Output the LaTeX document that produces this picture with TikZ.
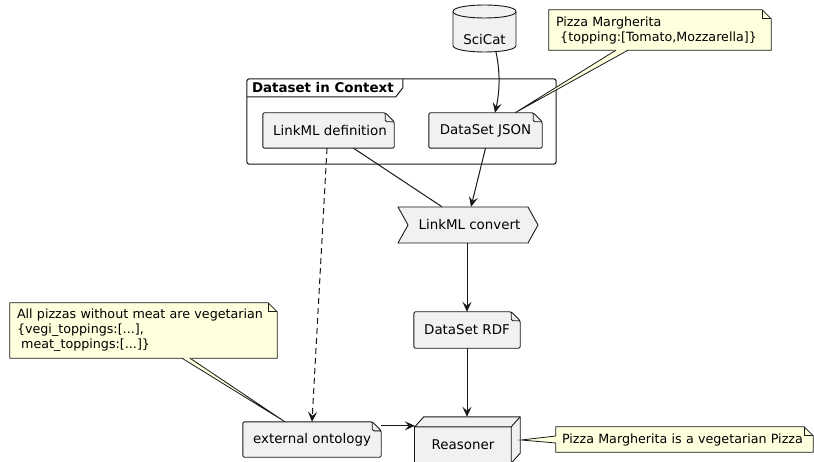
\documentclass[tikz,border=0pt]{standalone}
\usepackage{fontspec}
\setmainfont{DejaVu Sans}
\usetikzlibrary{arrows.meta,backgrounds,calc}
\definecolor{nodefill}{HTML}{F1F1F1}
\definecolor{notefill}{HTML}{FEFFDD}
\definecolor{ink}{HTML}{181818}
\newcommand{\foldedbox}[3]{%
  \draw[#2] (#1.south west) -- (#1.north west) -- ([xshift=-#3]#1.north east) -- ([yshift=-#3]#1.north east) -- (#1.south east) -- cycle;
  \draw[#2, fill=none] ([xshift=-#3]#1.north east) -- ([xshift=-#3,yshift=-#3]#1.north east) -- ([yshift=-#3]#1.north east);
}
\tikzset{
  box/.style={draw=none, inner sep=0pt, font=\fontsize{13.4}{16}\selectfont, text=black},
  notetext/.style={draw=none, inner xsep=7pt, inner ysep=0pt, align=left, font=\fontsize{12.7}{15}\selectfont, text=black},
  outline/.style={draw=ink, fill=nodefill, line width=0.9pt, line join=round},
  artline/.style={outline, rounded corners=1.5pt},
  noteline/.style={draw=ink, fill=notefill, line width=0.8pt, line join=miter},
  pkgline/.style={draw=ink, fill=white, line width=1pt},
  conn/.style={draw=ink, line width=1pt, -{Stealth[length=10pt,width=9pt,inset=4pt]}},
  plainline/.style={draw=ink, line width=1pt},
}
\begin{document}
\begin{tikzpicture}[x=1pt, y=-1pt]
\useasboundingbox (0,0) rectangle (814,462);

% nodes
\node[box, minimum width=309pt, minimum height=85pt] (pkg) at (401.5,121.5) {};
\node[anchor=west, inner sep=0pt, font=\bfseries\fontsize{13.4}{16}\selectfont] (pkgtitle) at ([xshift=5pt,yshift=-9pt]pkg.north west) {Dataset in Context};

\node[box, minimum width=63pt, minimum height=47pt] (scicat) at (484.5,28.5) {};
\node[box] (scicatlabel) at ([yshift=-11.5pt]scicat.center) {SciCat};

\node[box, minimum width=131pt, minimum height=35pt] (linkdef) at (328.5,130.5) {\hspace*{3pt}LinkML definition};
\node[box, minimum width=113pt, minimum height=35pt] (json) at (485.5,130.5) {DataSet JSON};
\node[box, minimum width=140pt, minimum height=36pt] (convert) at (468,225) {\hspace*{3pt}LinkML convert};
\node[box, minimum width=106pt, minimum height=36pt] (rdf) at (467,330) {DataSet RDF};
\node[box, minimum width=96pt, minimum height=36pt] (reasoner) at (463,445) {Reasoner};
\node[box, minimum width=138pt, minimum height=35pt] (ext) at (312,439.5) {external ontology};

\node[notetext, text width=208pt, minimum height=40pt] (note1) at (660,30) {Pizza Margherita\\\ \{topping:[Tomato,Mozzarella]\}};
\node[notetext, text width=253pt, minimum height=55pt] (note2) at (143.5,330.5) {All pizzas without meat are vegetarian\\\{vegi\_toppings:[...],\\\ meat\_toppings:[...]\}};
\node[notetext, inner xsep=6pt, text width=245pt, minimum height=25pt] (note3) at (684.5,439.5) {Pizza Margherita is a vegetarian Pizza};

% shapes
\begin{scope}[on background layer]
  \draw[pkgline, rounded corners=2.5pt] (pkg.south west) rectangle (pkg.north east);
  \draw[pkgline, fill=none] ([yshift=-18pt]pkg.north west) -- ++(149,0) -- ++(7,-9) -- ++(0,-9);

  \draw[outline] (453,11.5) .. controls (453,2.83) and (516,2.83) .. (516,11.5) -- (516,45.5) .. controls (516,54.17) and (453,54.17) .. (453,45.5) -- cycle;
  \draw[outline, fill=none] (453,11.5) .. controls (453,20.17) and (516,20.17) .. (516,11.5);

  \foldedbox{linkdef}{artline}{9pt}
  \foldedbox{json}{artline}{9pt}
  \foldedbox{rdf}{artline}{9pt}
  \foldedbox{ext}{artline}{9pt}

  \draw[outline] (398,207) -- (528,207) -- (538,225) -- (528,243) -- (398,243) -- (408,225) -- cycle;

  \draw[outline] (reasoner.south west) rectangle (reasoner.north east);
  \draw[outline] (reasoner.north west) -- ++(9,-10) -- ($(reasoner.north east)+(9,-10)$) -- ($(reasoner.south east)+(9,-10)$) -- (reasoner.south east) -- (reasoner.north east) -- cycle;
  \draw[outline, fill=none] (reasoner.north east) -- ++(9,-10);

  \foldedbox{note1}{noteline}{9pt}
  \foldedbox{note2}{noteline}{9pt}
  \foldedbox{note3}{noteline}{9pt}

  % note connectors
  \fill[notefill] ([xshift=-44pt,yshift=0.7pt]note1.south) -- ([xshift=29.5pt]json.north) -- ([xshift=-32pt,yshift=0.7pt]note1.south) -- cycle;
  \draw[draw=ink, line width=0.8pt] ([xshift=-44pt]note1.south) -- ([xshift=29.5pt]json.north) -- ([xshift=-32pt]note1.south);
  \fill[notefill] ([xshift=38.5pt,yshift=0.7pt]note2.south) -- ([xshift=-27pt]ext.north) -- ([xshift=46.5pt,yshift=0.7pt]note2.south) -- cycle;
  \draw[draw=ink, line width=0.8pt] ([xshift=38.5pt]note2.south) -- ([xshift=-27pt]ext.north) -- ([xshift=46.5pt]note2.south);
  \fill[notefill] ([xshift=0.7pt,yshift=3.5pt]note3.west) -- ([xshift=10pt,yshift=5pt]reasoner.east) -- ([xshift=0.7pt,yshift=-3.5pt]note3.west) -- cycle;
  \draw[draw=ink, line width=0.8pt] ([yshift=3.5pt]note3.west) -- ([xshift=10pt,yshift=5pt]reasoner.east) -- ([yshift=-3.5pt]note3.west);
\end{scope}

% connectors
\draw[conn] ([xshift=11.5pt]scicat.south) .. controls (501,75) and (499,95) .. ([xshift=9.5pt]json.north);
\draw[plainline] ([xshift=25pt]linkdef.south) -- ([xshift=-26pt]convert.north);
\draw[conn] (json.south) -- ([xshift=3pt]convert.north);
\draw[conn, dash pattern=on 6pt off 4pt] ([xshift=-1.5pt]linkdef.south) -- (ext.north);
\draw[conn] ([xshift=-1pt]convert.south) -- (rdf.north);
\draw[conn] (rdf.south) -- ([xshift=4pt,yshift=10pt]reasoner.north);
\draw[conn] ([yshift=-4pt]ext.north east) -- ([yshift=-4pt]ext.north east -| reasoner.west);
\end{tikzpicture}
\end{document}
